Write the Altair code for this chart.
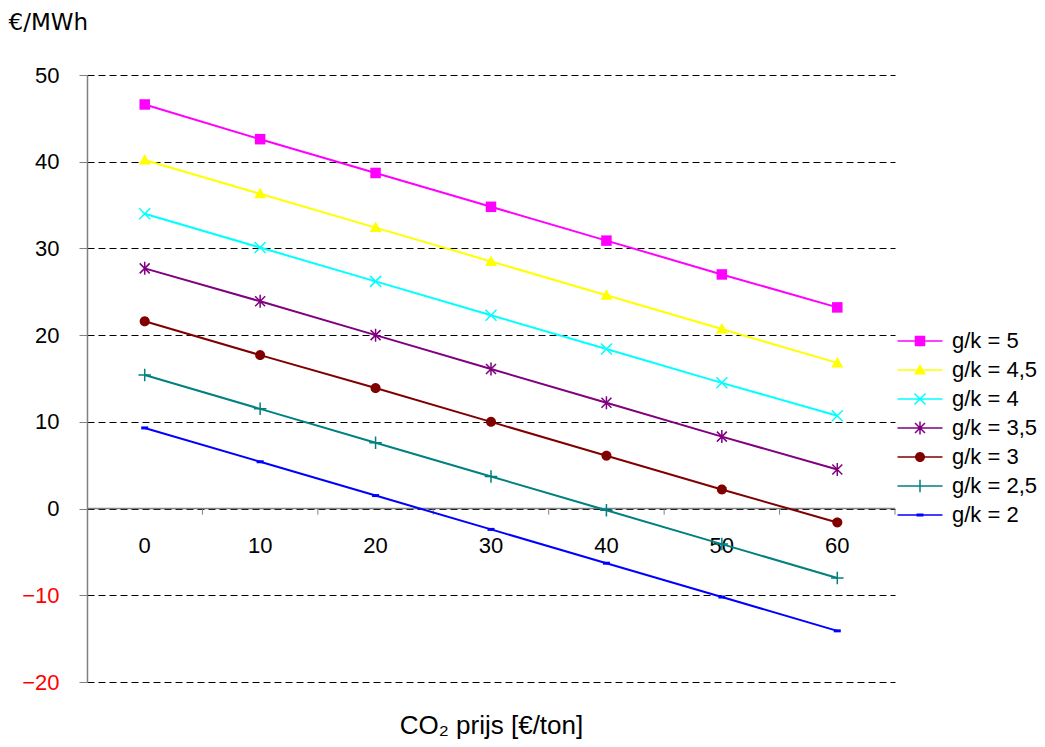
import math
import altair as alt
import pandas as pd

# ---------------- data ----------------
x_values = [0, 10, 20, 30, 40, 50, 60]
x_labels = ["0", "10", "20", "30", "40", "50", "60"]
series_names = ["g/k = 5", "g/k = 4,5", "g/k = 4", "g/k = 3,5", "g/k = 3", "g/k = 2,5", "g/k = 2"]
gk_5 = [46.6, 42.6, 38.7, 34.8, 30.9, 27.0, 23.2]
gk_45 = [40.2, 36.3, 32.4, 28.5, 24.6, 20.7, 16.8]
gk_4 = [34.0, 30.1, 26.2, 22.3, 18.4, 14.5, 10.7]
gk_35 = [27.7, 23.9, 20.0, 16.1, 12.2, 8.3, 4.5]
gk_3 = [21.6, 17.7, 13.9, 10.0, 6.1, 2.2, -1.6]
gk_25 = [15.4, 11.5, 7.6, 3.7, -0.2, -4.1, -8.0]
gk_2 = [9.3, 5.4, 1.5, -2.4, -6.3, -10.2, -14.1]
series_values = [gk_5, gk_45, gk_4, gk_35, gk_3, gk_25, gk_2]
y_ticks = [-20, -10, 0, 10, 20, 30, 40, 50]
category_bounds = [5, 15, 25, 35, 45, 55, 65]

colors = ["#FF00FF", "#FFFF00", "#00FFFF", "#800080", "#800000", "#008080", "#0000FF"]

rows = []
for name, vals in zip(series_names, series_values):
    for xv, yv in zip(x_values, vals):
        rows.append({"x": xv, "y": yv, "series": name})
df = pd.DataFrame(rows)
label_df = pd.DataFrame({"x": x_values, "label": x_labels, "y": [0] * len(x_values)})
bound_df = pd.DataFrame({"x": category_bounds, "y": [0] * len(category_bounds), "y2": [-0.7] * len(category_bounds)})
zero_df = pd.DataFrame({"y": [0]})


# ---------------- marker shapes (filled polygons, unit coords) ----------------
def poly(pts):
    area = 0.0
    for i in range(len(pts)):
        x1, y1 = pts[i]
        x2, y2 = pts[(i + 1) % len(pts)]
        area += x1 * y2 - x2 * y1
    if area > 0:
        pts = list(reversed(pts))
    return "M" + "L".join(f"{px:.3f},{py:.3f}" for px, py in pts) + "Z"


def seg(p1, p2, d):
    (x1, y1), (x2, y2) = p1, p2
    dx, dy = x2 - x1, y2 - y1
    L = math.hypot(dx, dy)
    nx, ny = -dy / L * d, dx / L * d
    return poly([(x1 + nx, y1 + ny), (x2 + nx, y2 + ny), (x2 - nx, y2 - ny), (x1 - nx, y1 - ny)])


T = 0.15
square = poly([(-1.05, -1.05), (1.05, -1.05), (1.05, 1.05), (-1.05, 1.05)])
triangle = poly([(0, -1.2), (1.2, 0.9), (-1.2, 0.9)])
xmark = seg((-1.1, -1.1), (1.1, 1.1), T) + seg((-1.1, 1.1), (1.1, -1.1), T)
asterisk = seg((-1.0, -1.0), (1.0, 1.0), T) + seg((-1.0, 1.0), (1.0, -1.0), T) + seg((0, -1.3), (0, 1.3), T)
circle = poly([(1.0 * math.cos(2 * math.pi * k / 28), 1.0 * math.sin(2 * math.pi * k / 28)) for k in range(28)])
plus = seg((-1.25, 0), (1.25, 0), T) + seg((0, -1.25), (0, 1.25), T)
dash = poly([(-0.7, -0.3), (0.7, -0.3), (0.7, 0.3), (-0.7, 0.3)])
marker_paths = [square, triangle, xmark, asterisk, circle, plus, dash]
legend_line = poly([(-4.5, -0.16), (4.5, -0.16), (4.5, 0.16), (-4.5, 0.16)])
legend_paths = [legend_line + m for m in marker_paths]

FONT = "Liberation Sans"

x_scale = alt.Scale(domain=[-5, 65], nice=False, zero=False)
y_scale = alt.Scale(domain=[-20, 50], nice=False, zero=False)

y_axis = alt.Axis(
    values=y_ticks,
    grid=True,
    gridColor="#000000",
    gridDash=[7, 4],
    gridWidth=1,
    domainColor="#808080",
    domainWidth=1.5,
    tickColor="#808080",
    tickSize=8,
    tickWidth=1,
    labelPadding=20,
    labelFont=FONT,
    labelFontSize=22,
    labelColor={"condition": {"test": "datum.value < 0", "value": "#FF0000"}, "value": "#000000"},
    title="€/MWh",
    titleFont="DejaVu Sans",
    titleFontSize=23,
    titleFontWeight="normal",
    titleColor="#000000",
    titleAngle=0,
    titleAlign="left",
    titleBaseline="alphabetic",
    titleX=-79,
    titleY=-46,
)
x_axis = alt.Axis(
    title="CO₂ prijs [€/ton]",
    labels=False,
    ticks=False,
    domain=False,
    grid=False,
    titleFont=FONT,
    titleFontSize=26,
    titleFontWeight="normal",
    titleColor="#000000",
    titleBaseline="alphabetic",
    titleY=51,
)

color_scale = alt.Scale(domain=series_names, range=colors)


def X(field="x:Q"):
    return alt.X(field, scale=x_scale, axis=x_axis)


def Y(field="y:Q"):
    return alt.Y(field, scale=y_scale, axis=y_axis)


zero_rule = alt.Chart(zero_df).mark_rule(color="#808080", strokeWidth=1.5).encode(y=Y())
bound_ticks = alt.Chart(bound_df).mark_rule(color="#808080", strokeWidth=1).encode(
    x=X(), y=Y(), y2="y2:Q"
)
x_text = alt.Chart(label_df).mark_text(
    font=FONT, fontSize=22, color="#000000", baseline="alphabetic", align="center", dy=44
).encode(x=X(), y=Y(), text="label:N")

lines = alt.Chart(df).mark_line(strokeWidth=2).encode(
    x=X(),
    y=Y(),
    color=alt.Color("series:N", scale=color_scale, legend=None),
    detail="series:N",
)
points = alt.Chart(df).mark_point(filled=True, size=100, opacity=1, strokeWidth=0).encode(
    x=X(),
    y=Y(),
    color=alt.Color("series:N", scale=color_scale, legend=None),
    shape=alt.Shape("series:N", scale=alt.Scale(domain=series_names, range=marker_paths), legend=None),
)


def legend_def():
    return alt.Legend(
        title=None,
        orient="none",
        legendX=822,
        legendY=255,
        padding=0,
        labelFont=FONT,
        labelFontSize=22,
        labelColor="#000000",
        labelOffset=21,
        labelLimit=300,
        rowPadding=7,
        symbolSize=100,
        symbolOpacity=1,
        symbolStrokeWidth=0,
    )


legend_layer = alt.Chart(df).mark_point(filled=True, size=100, opacity=0, strokeWidth=0).encode(
    x=X(),
    y=Y(),
    color=alt.Color("series:N", scale=color_scale, sort=series_names, legend=legend_def()),
    shape=alt.Shape(
        "series:N",
        sort=series_names,
        scale=alt.Scale(domain=series_names, range=legend_paths),
        legend=legend_def(),
    ),
)

chart = (
    alt.layer(zero_rule, bound_ticks, x_text, lines, points, legend_layer)
    .resolve_scale(color="independent", shape="independent")
    .properties(
        width=808,
        height=607,
        padding={"left": 79, "top": 67, "right": 142, "bottom": 57},
        autosize=alt.AutoSizeParams(type="none"),
        background="#FFFFFF",
    )
    .configure_view(stroke=None)
)

chart.save("out.html", embed_options={"renderer": "svg", "actions": False})
